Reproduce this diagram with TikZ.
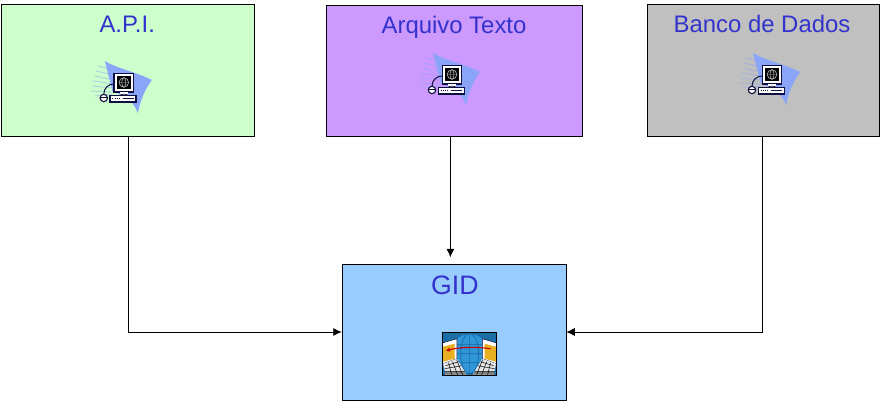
\documentclass[tikz,border=0pt]{standalone}
\usepackage{fontspec}
\setmainfont{Liberation Sans}
\usepackage{xcolor}
\usetikzlibrary{arrows.meta}
\definecolor{boxgreen}{HTML}{CCFFCC}
\definecolor{boxpurple}{HTML}{CC99FF}
\definecolor{boxgray}{HTML}{C0C0C0}
\definecolor{boxblue}{HTML}{99CCFF}
\definecolor{titleblue}{HTML}{3333CC}
\definecolor{swoosh}{HTML}{8AA4F8}
\definecolor{pcline}{HTML}{101040}
\definecolor{sealine}{HTML}{1B6EA6}
\definecolor{globeblue}{HTML}{2F96D8}
\definecolor{folder}{HTML}{E8B020}
\begin{document}
\begin{tikzpicture}[
    % GLOBAL CFG
    >={Latex[length=2.1mm,width=2mm]},
    % Styles
    source/.style={% For the main boxes
        rectangle,
        draw,
        line width=.5pt,
        },
    title/.style={% For the box titles
        font=\fontsize{17}{19}\selectfont,
        text=titleblue,
        inner sep=0pt,
        },
    link/.style={% Connectors
        ->,
        line width=.5pt,
        },
    pcicon/.pic={% Small computer, coordinates in pixels, origin on the monitor
        \begin{scope}[x=.25mm,y=.25mm]
        \fill [swoosh] (-19,22) .. controls (-6,14) and (10,12) .. (28,3)
            .. controls (20,-8) and (16,-20) .. (14,-30)
            .. controls (10,-20) and (4,-13) .. (-11,-9) -- cycle;
        \foreach \xa/\ya/\xb/\yb in {-26/17/-10/13,-28/12/-10/8,-29/7/-10/3,-31/2/-10/-1,-32/-3/-11/-5,-33/-8/-12/-9,-29/-13/-12/-11}
            \draw [swoosh, opacity=.5, line width=.6pt] (\xa,\ya) -- (\xb,\yb);
        % Cable and mouse
        \draw [pcline, line width=.7pt] (-20,-11) .. controls (-20,-5) and (-15,-1) .. (-10,-1);
        \draw [pcline, fill=white, line width=.8pt] (-20,-15) circle (3.7);
        \draw [pcline, line width=.3pt] (-23.7,-14.5) -- (-16.3,-14.5);
        % Monitor
        \draw [pcline, fill=white, line width=.9pt] (-9.7,-9) rectangle (9.7,9.3);
        \fill [black] (-7,-6) rectangle (7,7);
        \draw [white!75!black, line width=.4pt] (0,.5) circle (4.8);
        \draw [white!75!black, line width=.3pt] (-4.8,.5) -- (4.8,.5) (-4,3) -- (4,3) (-4,-2) -- (4,-2) (0,.5) ellipse (2 and 4.8);
        \fill [white] (-4,-9.5) rectangle (4,-12);
        \draw [pcline, line width=.5pt] (-4,-12) .. controls (-2,-11) and (2,-11) .. (4,-12);
        % Base
        \draw [pcline, fill=white, line width=.9pt] (-13.7,-12.5) rectangle (12.3,-19);
        \draw [pcline, line width=1pt] (-1,-15.7) -- (10,-15.7);
        \draw [pcline, line width=1.1pt, dash pattern=on .8pt off .8pt] (-11.5,-15.7) -- (-4,-15.7);
        \end{scope}
        },
    neticon/.pic={% Two laptops and a globe, coordinates in pixels
        \begin{scope}[x=.25mm,y=.25mm]
        \fill [sealine] (-27.2,-21.3) rectangle (27.2,21.3);
        \fill [globeblue] (0,0) circle (20);
        \draw [sealine, line width=.5pt] (0,0) circle (20) (0,0) ellipse (9 and 20)
            (-20,0) -- (20,0) (-18,9) -- (18,9) (-18,-9) -- (18,-9) (0,-20) -- (0,20);
        \foreach \s in {-1,1}{
            % One laptop, the other mirrored
            \begin{scope}[xscale=\s]
            \fill [white] (-26.5,11) -- (-12.7,15) -- (-12.7,-5) -- (-26.5,-10) -- cycle;
            \draw [pcline, line width=.4pt] (-26.5,11) -- (-12.7,15) -- (-12.7,-5) -- (-26.5,-10);
            \fill [folder] (-26.5,7) -- (-15,10) -- (-15,-5) -- (-26.5,-8) -- cycle;
            \fill [white!90!black] (-26.5,-10) -- (-12.7,-5) -- (-3,-21) -- (-24,-21) -- cycle;
            \fill [gray] (-25,-18) -- (-5,-18) -- (-3,-21) -- (-24,-21) -- cycle;
            \draw [black, line width=.35pt] (-24,-12) -- (-11,-8) (-25,-15) -- (-8,-12) (-25,-18) -- (-5,-18)
                (-21,-9) -- (-18,-21) (-17,-8) -- (-12,-21) (-13,-6) -- (-7,-21);
            \end{scope}
        }
        % Red link
        \draw [-{Latex[length=1.1mm,width=1.1mm]}, red!80!black, line width=.8pt]
            (21,5) .. controls (8,7) and (-8,7) .. (-24,3);
        \draw [black, line width=.6pt] (-27.2,-21.3) rectangle (27.2,21.3);
        \end{scope}
        },
    ]

    \useasboundingbox (0,0) rectangle (22,10.05);

    % Draw the boxes
    \node [source, fill=boxgreen, minimum width=6.325cm, minimum height=3.3cm] (api) at (3.19,8.3) {};
    \node [source, fill=boxpurple, minimum width=6.4cm, minimum height=3.275cm] (arq) at (11.35,8.29) {};
    \node [source, fill=boxgray, minimum width=5.8cm, minimum height=3.3cm] (bd) at (19.075,8.3) {};
    \node [source, fill=boxblue, minimum width=5.6cm, minimum height=3.4cm] (gid) at (11.35,1.75) {};

    % Titles
    \node [title] (tapi) at (3.18,9.44) {A.P.I.};
    \node [title] (tarq) at (11.35,9.37) {Arquivo Texto};
    \node [title] (tbd) at (19.05,9.44) {Banco de Dados};
    \node [title, font=\fontsize{19}{21}\selectfont] (tgid) at (11.37,2.92) {GID};

    % Icons
    \pic at (3.095,7.975) {pcicon};
    \pic at (11.3,8.175) {pcicon};
    \pic at (19.3,8.175) {pcicon};
    \pic at (11.74,1.207) {neticon};

    % Connectors
    \coordinate (aapi) at (3.2,8.3);
    \coordinate (aarq) at (11.26,8.3);
    \coordinate (abd) at (19.07,8.3);
    \coordinate (earq) at (11.26,3.62);
    \draw [link] (aapi |- api.south) |- (gid.west);
    \draw [link] (aarq |- arq.south) -- (earq);
    \draw [link] (abd |- bd.south) |- (gid.east);
\end{tikzpicture}
\end{document}
